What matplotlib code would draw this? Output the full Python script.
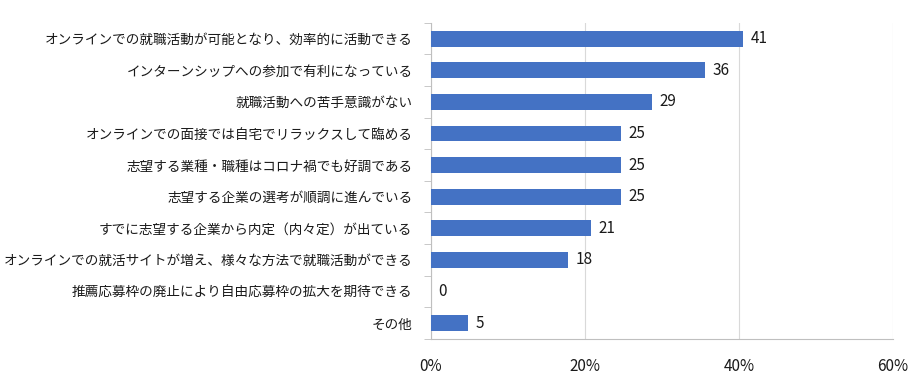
import matplotlib
matplotlib.use('Agg')
import matplotlib.pyplot as plt
import numpy as np

plt.rcParams['font.family'] = ['Noto Sans CJK JP', 'DejaVu Sans']

categories = [
    'オンラインでの就職活動が可能となり、効率的に活動できる',
    'インターンシップへの参加で有利になっている',
    '就職活動への苦手意識がない',
    'オンラインでの面接では自宅でリラックスして臨める',
    '志望する業種・職種はコロナ禍でも好調である',
    '志望する企業の選考が順調に進んでいる',
    'すでに志望する企業から内定（内々定）が出ている',
    'オンラインでの就活サイトが増え、様々な方法で就職活動ができる',
    '推薦応募枠の廃止により自由応募枠の拡大を期待できる',
    'その他',
]
values = [40.6, 35.6, 28.7, 24.7, 24.7, 24.7, 20.8, 17.8, 0.0, 4.9]
x_ticks = [0, 20, 40, 60]

bar_color = '#4472C4'
axis_gray = '#BFBFBF'
grid_gray = '#D9D9D9'

fig = plt.figure(figsize=(9.22, 3.74), dpi=100)
ax = fig.add_axes([0.467, 0.094, 0.5015, 0.845])

y_pos = np.arange(len(categories))
bars = ax.barh(y_pos, values, height=0.5, color=bar_color, zorder=3)

for rect, v in zip(bars, values):
    ax.text(rect.get_width() + 1.0, rect.get_y() + rect.get_height() / 2,
            '%d' % round(v), ha='left', va='center', fontsize=11,
            color='#1a1a1a', zorder=4)

ax.set_xlim(0, 60)
ax.set_ylim(len(categories) - 0.5, -0.5)
ax.set_xticks(x_ticks)
ax.set_xticklabels([f'{t}%' for t in x_ticks], fontsize=11, color='#1a1a1a')
ax.tick_params(axis='x', length=0, pad=14)

ax.set_yticks(y_pos)
ax.set_yticklabels(categories, fontsize=9.8, color='#1a1a1a')
ax.tick_params(axis='y', which='major', length=0, pad=13)
ax.set_yticks(np.arange(-0.5, len(categories), 1), minor=True)
ax.tick_params(axis='y', which='minor', length=5, color=axis_gray, direction='out')

ax.grid(axis='x', color=grid_gray, linewidth=0.8, zorder=0)
for side in ['top', 'right']:
    ax.spines[side].set_visible(False)
ax.spines['left'].set_color(axis_gray)
ax.spines['bottom'].set_color(axis_gray)

fig.savefig('out.png', dpi=100)
